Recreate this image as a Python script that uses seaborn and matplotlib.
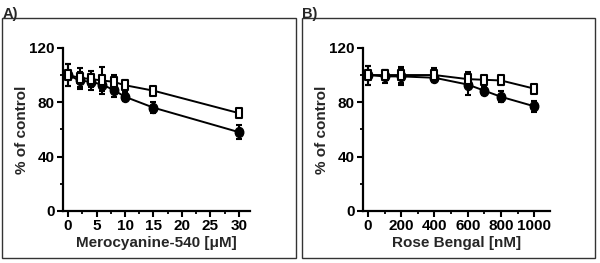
import matplotlib
matplotlib.use("Agg")
import matplotlib.pyplot as plt
import seaborn as sns
import pandas as pd
import numpy as np
from matplotlib.patches import Rectangle
from matplotlib.path import Path
from matplotlib.transforms import Affine2D
from matplotlib.ticker import MultipleLocator

sns.set_theme(style="ticks")
plt.rcParams['font.family'] = ['Liberation Sans', 'DejaVu Sans']
plt.rcParams['font.weight'] = 'bold'

# Panel A data
mc_conc = [0, 2, 4, 6, 8, 10, 15, 30]
mc_open = [100, 98, 97, 96, 95, 92.5, 88.5, 72]
mc_open_err = [8, 7, 6, 10, 5, 4, 3, 3]
mc_filled = [100, 96, 95, 93, 89, 84, 76, 58]
mc_filled_err = [8, 6, 6, 5, 5, 3, 4, 5]

# Panel B data
rb_conc = [0, 100, 200, 400, 600, 700, 800, 1000]
rb_open = [100, 100, 100, 100, 97, 96.5, 96, 90]
rb_open_err = [7, 4, 6, 5, 5, 3, 3, 3]
rb_filled = [100, 99, 99, 98, 93, 88.5, 84, 77]
rb_filled_err = [7, 5, 6, 3, 8, 3, 4, 4]

# slightly tall marker shapes (the reference is vertically stretched)
tall_square = Path([(-0.68, -1), (0.68, -1), (0.68, 1), (-0.68, 1), (-0.68, -1)],
                   [Path.MOVETO, Path.LINETO, Path.LINETO, Path.LINETO, Path.CLOSEPOLY])
tall_circle = Path.unit_circle().transformed(Affine2D().scale(0.85, 1.0))

fig = plt.figure(figsize=(6.0, 2.63), dpi=100)

def panel(rect, x, y_open, e_open, y_fill, e_fill, xlim, xmaj, xmin, xlabel):
    ax = fig.add_axes(rect)
    df = pd.DataFrame({'x': x + x,
                       'y': y_fill + y_open,
                       'grp': ['filled'] * len(x) + ['open'] * len(x)})
    ax.errorbar(x, y_fill, yerr=e_fill, fmt='none', ecolor='black',
                elinewidth=1.5, capsize=2.5, capthick=1.5, zorder=2)
    ax.errorbar(x, y_open, yerr=e_open, fmt='none', ecolor='black',
                elinewidth=1.5, capsize=2.5, capthick=1.5, zorder=2)
    sns.lineplot(data=df[df.grp == 'filled'], x='x', y='y', ax=ax,
                 color='black', lw=1.4, marker=tall_circle, markersize=7.2,
                 markerfacecolor='black', markeredgecolor='black',
                 markeredgewidth=1.0, zorder=3, errorbar=None)
    sns.lineplot(data=df[df.grp == 'open'], x='x', y='y', ax=ax,
                 color='black', lw=1.4, marker=tall_square, markersize=7.0,
                 markerfacecolor='white', markeredgecolor='black',
                 markeredgewidth=1.5, zorder=4, errorbar=None)
    ax.set_xlim(*xlim)
    ax.set_ylim(0, 120)
    ax.set_yticks([0, 40, 80, 120])
    ax.yaxis.set_minor_locator(MultipleLocator(20))
    ax.xaxis.set_major_locator(MultipleLocator(xmaj))
    ax.xaxis.set_minor_locator(MultipleLocator(xmin))
    ax.spines['top'].set_visible(False)
    ax.spines['right'].set_visible(False)
    for s in ('left', 'bottom'):
        ax.spines[s].set_linewidth(1.6)
        ax.spines[s].set_color('black')
    ax.tick_params(which='major', length=4, width=1.5, labelsize=11,
                   pad=2, colors='black')
    ax.tick_params(which='minor', length=2.5, width=1.3, colors='black')
    for lab in ax.get_xticklabels() + ax.get_yticklabels():
        lab.set_fontweight('bold')
    ax.set_xlabel(xlabel, fontsize=11, fontweight='bold', labelpad=2)
    ax.set_ylabel('% of control', fontsize=11, fontweight='bold', labelpad=0)
    ax.grid(False)
    ax.set_facecolor('white')
    return ax

axA = panel([0.105, 0.198, 0.312, 0.620], mc_conc, mc_open, mc_open_err,
            mc_filled, mc_filled_err, (-0.9, 32), 5, 2.5,
            'Merocyanine-540 [\u03bcM]')
axB = panel([0.605, 0.198, 0.312, 0.620], rb_conc, rb_open, rb_open_err,
            rb_filled, rb_filled_err, (-30, 1096), 200, 100,
            'Rose Bengal [nM]')

for x0, x1 in [(0.004, 0.493), (0.503, 0.992)]:
    fig.patches.append(Rectangle((x0, 0.019), x1 - x0, 0.912,
                                 transform=fig.transFigure, fill=False,
                                 edgecolor='#333333', linewidth=1.0))

fig.text(0.004, 0.975, 'A)', fontsize=10.5, fontweight='bold', va='top', ha='left')
fig.text(0.503, 0.975, 'B)', fontsize=10.5, fontweight='bold', va='top', ha='left')

fig.savefig('out.png', dpi=100, facecolor='white')
